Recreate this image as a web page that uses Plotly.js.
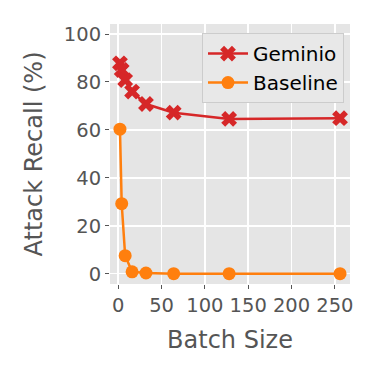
<!DOCTYPE html>
<html>
<head>
<meta charset="utf-8">
<script src="https://cdn.plot.ly/plotly-3.0.1.min.js"></script>
<style>
  html, body { margin: 0; padding: 0; background: #fff; }
  #chart { width: 375px; height: 375px; }
</style>
</head>
<body>
<div id="chart"></div>
<script>
// batch sizes on the x axis
var batchSizes = [2, 4, 8, 16, 32, 64, 128, 256];
// attack recall (%)
var geminioRecall = [87.8, 85, 80.8, 76, 70.8, 67.2, 64.6, 64.9];
var baselineRecall = [60.3, 29.2, 7.5, 0.8, 0.3, 0, 0, 0];

var xTicks = [0, 50, 100, 150, 200, 250];
var yTicks = [0, 20, 40, 60, 80, 100];

var geminio = {
  x: batchSizes,
  y: geminioRecall,
  name: 'Geminio',
  type: 'scatter',
  mode: 'lines+markers',
  line: {color: '#d62728', width: 2.5},
  marker: {symbol: 'x', size: 14, color: '#d62728'}
};

var baseline = {
  x: batchSizes,
  y: baselineRecall,
  name: 'Baseline',
  type: 'scatter',
  mode: 'lines+markers',
  line: {color: '#ff7f0e', width: 2.5},
  marker: {symbol: 'circle', size: 13, color: '#ff7f0e'}
};

var tickFont = {family: 'DejaVu Sans', size: 19.5, color: '#555555'};
var titleFont = {family: 'DejaVu Sans', size: 24, color: '#555555'};

var layout = {
  width: 375,
  height: 375,
  margin: {l: 110, r: 25, t: 24, b: 91},
  paper_bgcolor: '#ffffff',
  plot_bgcolor: '#e5e5e5',
  showlegend: true,
  legend: {
    x: 0.975, y: 0.965, xanchor: 'right', yanchor: 'top',
    bgcolor: '#e8e8e8',
    bordercolor: '#cccccc',
    borderwidth: 1,
    font: {family: 'DejaVu Sans', size: 20, color: '#000000'},
    itemwidth: 40,
    tracegroupgap: 4
  },
  xaxis: {
    range: [-9.5, 267.5],
    tickvals: xTicks,
    ticktext: xTicks.map(String),
    ticks: 'outside',
    ticklen: 4,
    tickwidth: 1,
    tickcolor: '#555555',
    tickfont: tickFont,
    showgrid: true,
    gridcolor: '#ffffff',
    gridwidth: 1.5,
    zeroline: false,
    showline: false,
    title: {text: 'Batch Size', font: titleFont, standoff: 14}
  },
  yaxis: {
    range: [-4.3, 104.2],
    tickvals: yTicks,
    ticktext: yTicks.map(String),
    ticks: 'outside',
    ticklen: 4,
    tickwidth: 1,
    tickcolor: '#555555',
    tickfont: tickFont,
    showgrid: true,
    gridcolor: '#ffffff',
    gridwidth: 1.5,
    zeroline: false,
    showline: false,
    title: {text: 'Attack Recall (%)', font: titleFont, standoff: 14}
  }
};

Plotly.newPlot('chart', [geminio, baseline], layout, {staticPlot: true, displayModeBar: false});
</script>
</body>
</html>
